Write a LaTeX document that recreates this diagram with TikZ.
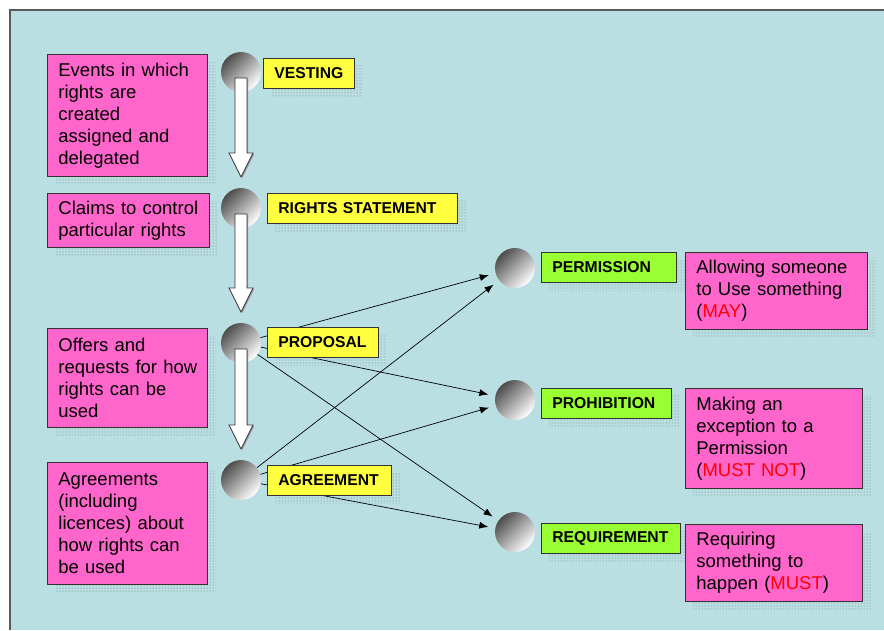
\documentclass[tikz,border=0pt]{standalone}
\usepackage{fontspec}
\setmainfont{Liberation Sans}
\usetikzlibrary{arrows.meta,calc,patterns}

\definecolor{bgcyan}{HTML}{B9DFE2}
\definecolor{boxpink}{HTML}{FF66CC}
\definecolor{boxyellow}{HTML}{FFFF40}
\definecolor{boxgreen}{HTML}{99FF33}
\definecolor{edgegray}{HTML}{333333}

\pgfdeclarelayer{backdrop}
\pgfdeclarelayer{shadow}
\pgfsetlayers{backdrop,shadow,main}

% white block arrow from one ball down to the next
\newcommand{\blockdown}[2]{%
  \fill [gray!80] let \p1=(#1.center), \p2=(#2.center) in
    (\x1-4.8pt,\y1-7.2pt) -- (\x1+7.2pt,\y1-7.2pt) -- (\x1+7.2pt,\y2+53.8pt)
    -- (\x1+13.2pt,\y2+53.8pt) -- (\x1+1.2pt,\y2+29.8pt) -- cycle;
  \draw [blockarrow] let \p1=(#1.center), \p2=(#2.center) in
    (\x1-6pt,\y1-6pt) -- (\x1+6pt,\y1-6pt) -- (\x1+6pt,\y2+55pt)
    -- (\x1+12pt,\y2+55pt) -- (\x1,\y2+31pt) -- (\x1-12pt,\y2+55pt)
    -- (\x1-6pt,\y2+55pt) -- cycle;}

\begin{document}
\begin{tikzpicture}[x=10pt,y=10pt,
  ball/.style={circle,minimum size=40pt,inner sep=0pt,top color=black!70,bottom color=white,shading angle=45},
  tag/.style={draw=edgegray,line width=0.8pt,anchor=west,minimum height=30pt,inner xsep=11pt,inner ysep=0pt,align=left,font=\bfseries\fontsize{15.7}{18}\selectfont},
  note/.style={draw=edgegray,line width=0.8pt,fill=boxpink,anchor=north west,inner xsep=11pt,inner ysep=2pt,align=left,font=\fontsize{18.5}{22}\selectfont},
  dotshadow/.style={pattern=dots,pattern color=gray!90!black},
  link/.style={-{Latex[length=9pt,width=7pt]},shorten >=7pt,line width=0.7pt},
  blockarrow/.style={draw=edgegray,fill=white,line width=0.7pt}]
\useasboundingbox (0,0) rectangle (88.4,-63.0);
\begin{pgfonlayer}{backdrop}
\fill [bgcyan] (1.0,-1.0) rectangle (88.4,-63.0);
\draw [black!65,line width=1.2pt] (1.0,-63.0) -- (1.0,-1.0) -- (88.4,-1.0);
\end{pgfonlayer}

% descriptions
\node [note,text width=138pt,minimum height=122pt] (events) at (4.7,-5.4) {Events in which\\rights are\\created\\assigned and\\delegated};
\node [note,text width=140pt,minimum height=54pt] (claims) at (4.7,-19.3) {Claims to control\\particular rights};
\node [note,text width=138pt,minimum height=99pt] (offers) at (4.7,-32.8) {Offers and\\requests~for~how\\rights can be\\used};
\node [note,text width=138pt,minimum height=122pt] (agreements) at (4.7,-46.2) {Agreements\\(including\\licences) about\\how rights can\\be used};
\node [note,text width=160pt,minimum height=77pt] (allowing) at (68.5,-25.2) {Allowing someone\\to Use something\\(\textcolor{red}{MAY})};
\node [note,text width=155pt,minimum height=100pt] (making) at (68.5,-38.8) {Making an\\exception to a\\Permission\\(\textcolor{red}{MUST NOT})};
\node [note,text width=155pt,minimum height=77pt] (requiring) at (68.5,-52.4) {Requiring\\something to\\happen (\textcolor{red}{MUST})};

% balls
\node [ball] (vesting) at (24.1,-7.2) {};
\node [ball] (rights) at (24.1,-20.8) {};
\node [ball] (proposal) at (24.1,-34.3) {};
\node [ball] (agreement) at (24.1,-48.0) {};
\node [ball] (permission) at (51.5,-26.8) {};
\node [ball] (prohibition) at (51.5,-40.0) {};
\node [ball] (requirement) at (51.5,-53.2) {};

% links
\draw [link] (proposal) -- (permission);
\draw [link] (proposal) -- (prohibition);
\draw [link] (proposal) -- (requirement);
\draw [link] (agreement) -- (permission);
\draw [link] (agreement) -- (prohibition);
\draw [link] (agreement) -- (requirement);

\blockdown{vesting}{rights}
\blockdown{rights}{proposal}
\blockdown{proposal}{agreement}

% labels
\node [tag,fill=boxyellow,text width=69pt] (vestingtag) at (26.3,-7.3) {VESTING};
\node [tag,fill=boxyellow,text width=168pt] (rightstag) at (26.7,-20.8) {RIGHTS STATEMENT};
\node [tag,fill=boxyellow,text width=89pt] (proposaltag) at (26.7,-34.25) {PROPOSAL};
\node [tag,fill=boxyellow,text width=102pt] (agreementtag) at (26.7,-48.0) {AGREEMENT};
\node [tag,fill=boxgreen,text width=113pt] (permissiontag) at (54.1,-26.7) {PERMISSION};
\node [tag,fill=boxgreen,text width=108pt] (prohibitiontag) at (54.1,-40.3) {PROHIBITION};
\node [tag,fill=boxgreen,text width=117pt] (requirementtag) at (54.1,-53.85) {REQUIREMENT};

% dotted shadows
\begin{pgfonlayer}{shadow}
\foreach \nd in {events,claims,offers,agreements,allowing,making,requiring,
    vestingtag,rightstag,proposaltag,agreementtag,permissiontag,prohibitiontag,requirementtag}
  \fill [dotshadow] ($(\nd.south west)+(8pt,-8pt)$) rectangle ($(\nd.north east)+(8pt,-8pt)$);
\end{pgfonlayer}
\end{tikzpicture}
\end{document}
